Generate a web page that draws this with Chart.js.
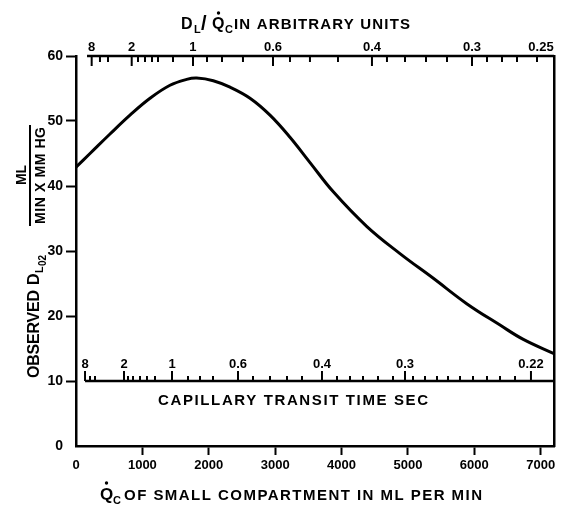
<!DOCTYPE html>
<html>
<head>
<meta charset="utf-8">
<script src="https://cdn.jsdelivr.net/npm/chart.js@4.4.0/dist/chart.umd.min.js"></script>
<style>
  html, body { margin: 0; padding: 0; background: #fff; }
</style>
</head>
<body>
<canvas id="myChart" width="566" height="505"></canvas>
<script>
// curve: Qc of small compartment (ml/min) vs observed DLO2
var qcValues = [0, 211, 512, 813, 1115, 1416, 1667, 1818, 2068, 2320, 2621, 2922, 3223, 3525, 3876, 4378, 4880, 5382, 5885, 6387, 6738, 7200]
var dlValues = [42.9, 45.0, 48.0, 50.9, 53.5, 55.5, 56.4, 56.6, 56.2, 55.2, 53.5, 50.9, 47.5, 43.6, 39.1, 33.8, 29.6, 25.8, 21.9, 18.6, 16.4, 14.2]

var xTickValues = [0, 1000, 2000, 3000, 4000, 5000, 6000, 7000]
var yTickValues = [0, 10, 20, 30, 40, 50, 60]

// top scale, DL/Qc in arbitrary units (placed at the Qc where each mark sits)
var topLabels = ['8', '2', '1', '0.6', '0.4', '0.3', '0.25']
var topLabelQc = [236, 839, 1762, 2967, 4458, 5965, 7004]
var topMajorQc = [236, 839, 1762, 2967, 4458, 5965]
var topMinorQc = [361, 482, 934, 1039, 1145, 1235, 1461, 1973, 2199, 2515, 3223, 3524, 3946, 4684, 4956, 5272, 5588, 6191, 6417, 6643, 6944]
var topStartQc = 166

// inner scale, capillary transit time in sec (drawn on the line y = 10)
var transitLabels = ['8', '2', '1', '0.6', '0.4', '0.3', '0.22']
var transitQc = [136, 723, 1446, 2440, 3705, 4956, 6853]
var transitMinorQc = [211, 286, 783, 859, 964, 1069, 1190, 1687, 1868, 2064, 2666, 2922, 3178, 3404, 3931, 4127, 4323, 4549, 4775, 5076, 5257, 5438, 5603, 5784, 5980, 6191, 6387, 6613]
var transitLevel = 10

var FONT = '"Liberation Sans", Arial, sans-serif'
function bold(px) { return 'bold ' + px + 'px ' + FONT }

// draw text starting at x, stretched or squeezed to the given width
function spaced(ctx, text, x, y, width) {
  ctx.letterSpacing = '0px'
  var w = ctx.measureText(text).width
  var gap = text.length > 1 ? (width - w) / (text.length - 1) : 0
  ctx.letterSpacing = gap + 'px'
  ctx.textAlign = 'left'
  ctx.fillText(text, x, y)
  ctx.letterSpacing = '0px'
}

function dotAbove(ctx, x, y) {
  ctx.beginPath()
  ctx.arc(x, y, 1.7, 0, Math.PI * 2)
  ctx.fill()
}

var extraScales = {
  id: 'extraScales',
  afterDraw: function(chart) {
    var ctx = chart.ctx
    var x = chart.scales.x
    var y = chart.scales.y
    var right = chart.chartArea.right
    ctx.save()
    ctx.strokeStyle = '#000'
    ctx.fillStyle = '#000'
    ctx.lineCap = 'butt'

    // top scale
    var yTop = y.getPixelForValue(60)
    ctx.lineWidth = 2.5
    ctx.beginPath()
    ctx.moveTo(x.getPixelForValue(topStartQc), yTop)
    ctx.lineTo(right, yTop)
    ctx.stroke()
    ctx.lineWidth = 2
    topMajorQc.forEach(function(v) {
      var px = x.getPixelForValue(v)
      ctx.beginPath(); ctx.moveTo(px, yTop); ctx.lineTo(px, yTop + 10); ctx.stroke()
    })
    topMinorQc.forEach(function(v) {
      var px = x.getPixelForValue(v)
      ctx.beginPath(); ctx.moveTo(px, yTop); ctx.lineTo(px, yTop + 6); ctx.stroke()
    })
    ctx.font = bold(13)
    ctx.textAlign = 'center'
    ctx.textBaseline = 'alphabetic'
    topLabels.forEach(function(t, i) {
      ctx.fillText(t, x.getPixelForValue(topLabelQc[i]), yTop - 5)
    })

    // inner transit time scale
    var yIn = y.getPixelForValue(transitLevel)
    ctx.lineWidth = 2.5
    ctx.beginPath()
    ctx.moveTo(x.getPixelForValue(transitQc[0]), yIn)
    ctx.lineTo(right, yIn)
    ctx.stroke()
    ctx.lineWidth = 2
    transitQc.forEach(function(v) {
      var px = x.getPixelForValue(v)
      ctx.beginPath(); ctx.moveTo(px, yIn); ctx.lineTo(px, yIn - 10); ctx.stroke()
    })
    transitMinorQc.forEach(function(v) {
      var px = x.getPixelForValue(v)
      ctx.beginPath(); ctx.moveTo(px, yIn); ctx.lineTo(px, yIn - 5); ctx.stroke()
    })
    ctx.font = bold(13)
    ctx.textAlign = 'center'
    transitLabels.forEach(function(t, i) {
      ctx.fillText(t, x.getPixelForValue(transitQc[i]), yIn - 13)
    })
    ctx.font = bold(15)
    spaced(ctx, 'CAPILLARY TRANSIT TIME SEC', 158, yIn + 24, 270)

    // top title: DL/Qc IN ARBITRARY UNITS
    ctx.font = bold(16)
    ctx.textAlign = 'left'
    ctx.fillText('D', 181, 29)
    ctx.font = bold(11)
    ctx.fillText('L', 194, 33)
    ctx.font = bold(20)
    ctx.fillText('/', 201, 30)
    ctx.font = bold(16)
    ctx.fillText('Q', 212, 29)
    dotAbove(ctx, 218.5, 13)
    ctx.font = bold(11)
    ctx.fillText('C', 225, 33)
    ctx.font = bold(15)
    spaced(ctx, 'IN ARBITRARY UNITS', 234, 29, 176)

    // bottom title
    ctx.font = bold(17)
    ctx.fillText('Q', 100, 500)
    dotAbove(ctx, 106.5, 483)
    ctx.font = bold(11)
    ctx.fillText('C', 113, 504)
    ctx.font = bold(15)
    spaced(ctx, 'OF SMALL COMPARTMENT IN ML PER MIN', 124, 500, 358)

    // y title, rotated
    ctx.rotate(-Math.PI / 2)
    ctx.textAlign = 'left'
    ctx.font = bold(16)
    spaced(ctx, 'OBSERVED', -378, 39, 88)
    ctx.fillText('D', -285, 39)
    ctx.font = bold(11)
    ctx.fillText('L', -273, 43)
    ctx.font = bold(10)
    ctx.fillText('02', -266, 46)
    // fraction ML / MIN X MM HG
    ctx.lineWidth = 2
    ctx.beginPath()
    ctx.moveTo(-226, 30)
    ctx.lineTo(-125, 30)
    ctx.stroke()
    ctx.font = bold(14)
    ctx.textAlign = 'center'
    ctx.fillText('ML', -175, 26)
    ctx.textAlign = 'left'
    spaced(ctx, 'MIN X MM HG', -224, 45, 97)
    ctx.restore()
  }
}

var ctx = document.getElementById('myChart').getContext('2d')
var chart = new Chart(ctx, {
  type: 'line',
  data: {
    datasets: [{
      data: qcValues.map(function(q, i) { return { x: q, y: dlValues[i] } }),
      borderColor: '#000',
      borderWidth: 3,
      pointRadius: 0,
      tension: 0.4,
      fill: false
    }]
  },
  options: {
    responsive: false,
    animation: false,
    layout: { padding: { top: 56, right: 12, left: 0, bottom: 0 } },
    plugins: { legend: { display: false }, tooltip: { enabled: false } },
    scales: {
      x: {
        type: 'linear',
        min: 0,
        max: 7200,
        afterBuildTicks: function(s) { s.ticks = xTickValues.map(function(v) { return { value: v } }) },
        afterFit: function(s) { s.height = 59 },
        grid: {
          drawOnChartArea: false,
          tickLength: 9,
          tickWidth: 2,
          tickColor: function(c) { return c.tick && c.tick.value === 0 ? 'rgba(0,0,0,0)' : '#000' }
        },
        border: { color: '#000', width: 2.5 },
        ticks: {
          color: '#000',
          font: { family: FONT, size: 13, weight: 'bold' },
          padding: 3,
          maxRotation: 0,
          callback: function(v) { return String(v) }
        }
      },
      y: {
        min: 0,
        max: 60,
        afterBuildTicks: function(s) { s.ticks = yTickValues.map(function(v) { return { value: v } }) },
        afterFit: function(s) { s.width = 76 },
        grid: {
          drawOnChartArea: false,
          tickLength: 10,
          tickWidth: 2,
          tickColor: function(c) { return c.tick && c.tick.value === 0 ? 'rgba(0,0,0,0)' : '#000' }
        },
        border: { color: '#000', width: 2.5 },
        ticks: { color: '#000', font: { family: FONT, size: 14, weight: 'bold' }, padding: 3 }
      },
      y2: {
        position: 'right',
        min: 0,
        max: 60,
        afterFit: function(s) { s.width = 0 },
        grid: { drawOnChartArea: false, drawTicks: false },
        border: { color: '#000', width: 2.5 },
        ticks: { display: false }
      }
    }
  },
  plugins: [extraScales]
})
</script>
</body>
</html>
